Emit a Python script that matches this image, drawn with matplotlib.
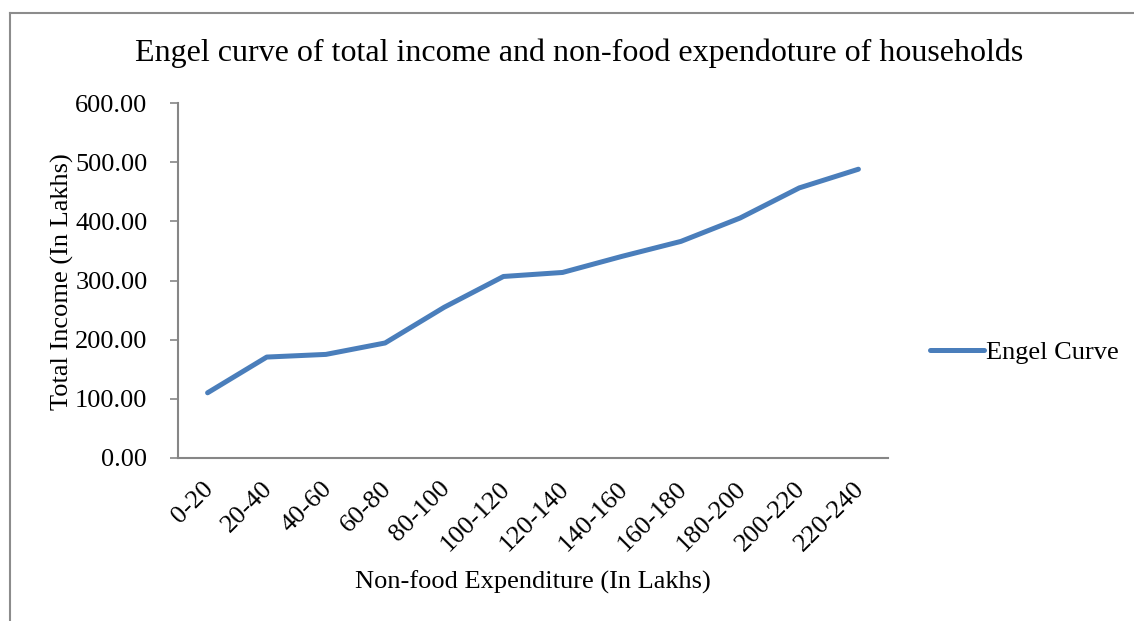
import matplotlib
matplotlib.use("Agg")
import matplotlib.pyplot as plt
from matplotlib.lines import Line2D
import matplotlib.transforms as mtransforms

categories = ["0-20", "20-40", "40-60", "60-80", "80-100", "100-120", "120-140",
              "140-160", "160-180", "180-200", "200-220", "220-240"]
income = [110.2, 170.6, 175.1, 194.4, 254.8, 306.8, 313.6, 340.7, 366.1, 405.6, 456.5, 488.1]
yticks = [0, 100, 200, 300, 400, 500, 600]

plt.rcParams['font.family'] = ['Liberation Serif', 'DejaVu Serif']
W, H = 1134, 621
fig = plt.figure(figsize=(W / 100, H / 100), dpi=100)
ax = fig.add_axes([178 / W, 1 - 458 / H, (888 - 178) / W, (458 - 103) / H])

color = '#4a7ebb'
x = list(range(len(categories)))
ax.plot(x, income, color=color, lw=3.6, solid_capstyle='round', solid_joinstyle='round',
        label='Engel Curve')

ax.set_xlim(-0.5, len(categories) - 0.5)
ax.set_ylim(0, 600)
ax.set_yticks(yticks)
ax.set_yticklabels([f"{v:.2f}" for v in yticks], fontsize=19)
ax.set_xticks(x)
ax.set_xticklabels(categories, rotation=45, ha='right', va='top', rotation_mode='anchor', fontsize=19)
ax.tick_params(axis='x', length=0, pad=14)
offset = mtransforms.ScaledTranslation(-5 / 100, 0, fig.dpi_scale_trans)
for lbl in ax.get_xticklabels():
    lbl.set_transform(lbl.get_transform() + offset)
ax.tick_params(axis='y', length=6, width=1.2, color='#868686', pad=16, direction='out')
for s in ['top', 'right']:
    ax.spines[s].set_visible(False)
for s in ['left', 'bottom']:
    ax.spines[s].set_color('#868686')
    ax.spines[s].set_linewidth(1.5)

fig.text(62 / W, 1 - 282 / H, 'Total Income (In Lakhs)', fontsize=19, rotation=90,
         ha='center', va='center')
fig.text(533 / W, 1 - 582 / H, 'Non-food Expenditure (In Lakhs)', fontsize=19, ha='center', va='center')
fig.text(579 / W, 1 - 53 / H, 'Engel curve of total income and non-food expendoture of households',
         fontsize=23, ha='center', va='center')

# legend
fig.legend(handles=[Line2D([0], [0], color=color, lw=3.6, solid_capstyle='round')],
           labels=['Engel Curve'], loc='center left', bbox_to_anchor=(930 / W, 1 - 352 / H),
           frameon=False, fontsize=19, handlelength=2.05, handletextpad=0.08, borderpad=0,
           borderaxespad=0)

# outer border (partially cut)
fig.add_artist(Line2D([10 / W, 1.0], [1 - 13 / H, 1 - 13 / H], color='#8c8c8c', lw=1.5,
                      transform=fig.transFigure))
fig.add_artist(Line2D([10 / W, 10 / W], [0, 1 - 13 / H], color='#8c8c8c', lw=1.5,
                      transform=fig.transFigure))

fig.savefig('out.png', dpi=100)
